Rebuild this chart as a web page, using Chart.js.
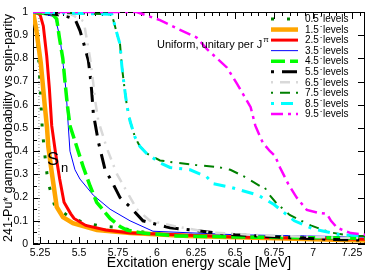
<!DOCTYPE html>
<html>
<head>
<meta charset="utf-8">
<script src="https://cdn.jsdelivr.net/npm/chart.js@4.4.1/dist/chart.umd.min.js"></script>
<style>
  html, body { margin: 0; padding: 0; background: #fff; }
</style>
</head>
<body>
<canvas id="plot" width="368" height="273"></canvas>
<script>
// level labels (spin of the J^pi group)
var levelLabels = ['0.5', '1.5', '2.5', '3.5', '4.5', '5.5', '6.5', '7.5', '8.5', '9.5'];

// curves: [energy MeV, probability]
var lev05 = [[5.205,1],[5.22,0.96],[5.24,0.82],[5.255,0.62],[5.265,0.49],[5.28,0.39],[5.30,0.27],[5.346,0.16],[5.442,0.116],[5.538,0.09],[5.635,0.078],[5.73,0.073],[5.838,0.06],[5.974,0.045],[6.3,0.035],[6.8,0.03],[7.333,0.025]];
var lev15 = [[5.205,1],[5.225,0.93],[5.255,0.78],[5.28,0.6],[5.295,0.5],[5.303,0.42],[5.325,0.31],[5.357,0.16],[5.397,0.116],[5.461,0.09],[5.615,0.06],[5.827,0.047],[6.2,0.035],[6.75,0.025],[7.333,0.015]];
var lev25 = [[5.205,1],[5.25,0.99],[5.271,0.94],[5.293,0.81],[5.31,0.67],[5.325,0.51],[5.35,0.39],[5.376,0.28],[5.404,0.18],[5.447,0.13],[5.468,0.11],[5.543,0.08],[5.671,0.06],[5.827,0.047],[6.5,0.03],[7.333,0.02]];
var lev35 = [[5.205,1],[5.346,0.98],[5.378,0.89],[5.399,0.77],[5.417,0.66],[5.431,0.51],[5.442,0.40],[5.474,0.32],[5.506,0.28],[5.592,0.21],[5.699,0.15],[5.827,0.1],[5.974,0.055],[6.5,0.04],[7.333,0.03]];
var lev45 = [[5.205,1],[5.33,0.99],[5.357,0.97],[5.374,0.89],[5.396,0.8],[5.41,0.7],[5.425,0.6],[5.442,0.51],[5.485,0.42],[5.528,0.33],[5.571,0.25],[5.613,0.18],[5.699,0.11],[5.763,0.075],[5.806,0.06],[5.91,0.047],[6.126,0.035],[6.51,0.03],[7.333,0.025]];
var lev55 = [[5.205,1],[5.35,0.99],[5.423,0.98],[5.474,0.97],[5.506,0.92],[5.528,0.87],[5.56,0.79],[5.571,0.73],[5.581,0.66],[5.592,0.56],[5.603,0.52],[5.624,0.44],[5.667,0.32],[5.71,0.27],[5.763,0.2],[5.827,0.16],[5.91,0.10],[6.083,0.07],[6.23,0.06],[6.38,0.047],[6.5,0.04],[6.77,0.03],[7.1,0.02],[7.333,0.017]];
var lev65 = [[5.205,1],[5.45,0.99],[5.53,0.96],[5.571,0.8],[5.59,0.7],[5.603,0.62],[5.624,0.53],[5.68,0.41],[5.744,0.3],[5.82,0.21],[5.87,0.15],[5.955,0.10],[6.126,0.075],[6.34,0.05],[6.6,0.04],[7.0,0.03],[7.333,0.025]];
var lev75 = [[5.205,1],[5.71,0.99],[5.742,0.91],[5.763,0.86],[5.774,0.77],[5.788,0.69],[5.806,0.6],[5.827,0.53],[5.859,0.46],[5.891,0.42],[5.934,0.39],[6.019,0.36],[6.126,0.35],[6.254,0.34],[6.404,0.33],[6.47,0.32],[6.56,0.29],[6.66,0.25],[6.69,0.245],[6.71,0.22],[6.76,0.18],[6.85,0.125],[6.985,0.08],[7.11,0.05],[7.24,0.035],[7.333,0.034]];
var lev85 = [[5.205,1],[5.71,0.99],[5.742,0.91],[5.763,0.86],[5.774,0.77],[5.788,0.69],[5.806,0.6],[5.827,0.53],[5.859,0.46],[5.891,0.42],[5.934,0.39],[6.019,0.35],[6.083,0.33],[6.212,0.32],[6.318,0.29],[6.359,0.26],[6.47,0.245],[6.65,0.21],[6.75,0.17],[6.88,0.10],[7.0,0.065],[7.17,0.04],[7.333,0.035]];
var lev95 = [[5.205,1],[5.87,1],[6.019,0.965],[6.126,0.93],[6.254,0.89],[6.32,0.84],[6.449,0.76],[6.513,0.69],[6.6,0.59],[6.63,0.51],[6.679,0.435],[6.724,0.40],[6.756,0.38],[6.788,0.33],[6.84,0.26],[6.895,0.2],[6.96,0.147],[7.03,0.135],[7.088,0.13],[7.115,0.1],[7.154,0.07],[7.242,0.047],[7.333,0.04]];

// neutron separation energy marker
var snEnergy = 5.243;

// axis ticks
var xTickValues = [5.25, 5.5, 5.75, 6, 6.25, 6.5, 6.75, 7, 7.25];
var xTickLabels = ['5.25', '5.5', '5.75', '6', '6.25', '6.5', '6.75', '7', '7.25'];
var yTickValues = [0, 0.1, 0.2, 0.3, 0.4, 0.5, 0.6, 0.7, 0.8, 0.9, 1];
var yTickLabels = ['0', '0.1', '0.2', '0.3', '0.4', '0.5', '0.6', '0.7', '0.8', '0.9', '1'];

var curves = [lev05, lev15, lev25, lev35, lev45, lev55, lev65, lev75, lev85, lev95];

// line looks, one per level
var looks = [
    { color: '#008000', width: 3,   dash: [3, 13] },
    { color: '#ffa500', width: 4.5, dash: [] },
    { color: '#ff0000', width: 3,   dash: [] },
    { color: '#0000ff', width: 1,   dash: [] },
    { color: '#00ff00', width: 3.5, dash: [14, 5] },
    { color: '#000000', width: 3,   dash: [3, 8, 15, 8] },
    { color: '#d9d9d9', width: 2.5, dash: [2, 7, 10, 6] },
    { color: '#008000', width: 2,   dash: [2, 7, 10, 6] },
    { color: '#00ffff', width: 3,   dash: [3, 7, 12, 7] },
    { color: '#ff00ff', width: 2.5, dash: [12, 5, 3, 5] }
];

var datasets = curves.map(function (pts, i) {
    return {
        label: levelLabels[i] + ' levels',
        data: pts.map(function (p) { return { x: p[0], y: p[1] }; }),
        borderColor: looks[i].color,
        borderWidth: looks[i].width,
        borderDash: looks[i].dash,
        borderCapStyle: 'butt',
        pointRadius: 0,
        tension: 0,
        fill: false,
        order: 9 - i
    };
});

datasets.push({
    label: 'Sn',
    data: [{ x: snEnergy, y: 0 }, { x: snEnergy, y: 1 }],
    borderColor: '#888888',
    borderWidth: 1,
    borderDash: [1, 2],
    pointRadius: 0,
    fill: false,
    order: 20
});

var FONT = "'Liberation Sans', Arial, sans-serif";

// ROOT style frame with inward ticks
var framePlugin = {
    id: 'frame',
    beforeDatasetsDraw: function (chart) {
        var ctx = chart.ctx, a = chart.chartArea;
        var xs = chart.scales.x, ys = chart.scales.y;
        ctx.save();
        ctx.strokeStyle = '#000';
        ctx.lineWidth = 1;
        ctx.strokeRect(a.left + 0.5, a.top + 0.5, a.right - a.left - 1, a.bottom - a.top - 1);
        ctx.beginPath();
        for (var k = 0; k <= 42; k++) {
            var v = 5.25 + k * 0.05;
            if (v > xs.max) break;
            var px = Math.round(xs.getPixelForValue(v)) + 0.5;
            var len = (k % 5 === 0) ? 7 : 4;
            ctx.moveTo(px, a.bottom); ctx.lineTo(px, a.bottom - len);
            ctx.moveTo(px, a.top); ctx.lineTo(px, a.top + len);
        }
        for (var j = 0; j <= 20; j++) {
            var py = Math.round(ys.getPixelForValue(j * 0.05)) + 0.5;
            var major = (j % 2 === 0);
            ctx.moveTo(a.left, py); ctx.lineTo(a.left + (major ? 7 : 4), py);
            if (major) { ctx.moveTo(a.right, py); ctx.lineTo(a.right - 7, py); }
        }
        ctx.stroke();
        ctx.restore();
    },
    afterDraw: function (chart) {
        var ctx = chart.ctx;
        ctx.save();
        ctx.fillStyle = '#000';
        ctx.textBaseline = 'alphabetic';
        // annotation
        ctx.font = '11px ' + FONT;
        ctx.fillText('Uniform, unitary per J', 157, 48);
        var w = ctx.measureText('Uniform, unitary per J').width;
        ctx.font = '8px ' + FONT;
        ctx.fillText('\u03c0', 157 + w + 1, 42);
        // Sn label
        ctx.font = '18px ' + FONT;
        ctx.fillText('S', 47, 165);
        ctx.font = '13px ' + FONT;
        ctx.fillText('n', 61, 172);
        // legend
        for (var i = 0; i < looks.length; i++) {
            var y = 19 + i * 10.55;
            ctx.save();
            ctx.strokeStyle = looks[i].color;
            ctx.lineWidth = looks[i].width;
            ctx.setLineDash(looks[i].dash);
            ctx.lineCap = 'butt';
            ctx.beginPath();
            ctx.moveTo(271, y); ctx.lineTo(298, y);
            ctx.stroke();
            ctx.restore();
            ctx.textBaseline = 'middle';
            ctx.font = '10px ' + FONT;
            ctx.fillText(levelLabels[i], 305, y + 0.5);
            var nw = ctx.measureText(levelLabels[i]).width;
            ctx.font = '7px ' + FONT;
            ctx.fillText('-', 305 + nw + 1, y - 3);
            ctx.font = '10px ' + FONT;
            ctx.fillText('levels', 323, y + 0.5);
        }
        ctx.restore();
    }
};

var chart = new Chart(document.getElementById('plot').getContext('2d'), {
    type: 'line',
    data: { datasets: datasets },
    options: {
        responsive: false,
        animation: false,
        layout: { padding: { top: 12, right: 3, left: 0, bottom: 0 } },
        plugins: {
            legend: { display: false },
            tooltip: { enabled: false }
        },
        scales: {
            x: {
                type: 'linear',
                min: 5.205,
                max: 7.333,
                afterFit: function (s) { s.height = 29; },
                afterBuildTicks: function (s) {
                    s.ticks = xTickValues.map(function (v) { return { value: v }; });
                },
                grid: { display: false, drawTicks: false },
                border: { display: false },
                ticks: {
                    autoSkip: false,
                    maxRotation: 0,
                    padding: 3,
                    color: '#000',
                    font: { family: FONT, size: 10.5 },
                    callback: function (v) {
                        var k = xTickValues.indexOf(v);
                        return k >= 0 ? xTickLabels[k] : '';
                    }
                },
                title: {
                    display: true,
                    text: 'Excitation energy scale [MeV]',
                    color: '#000',
                    font: { family: FONT, size: 14 },
                    padding: { top: 0, bottom: 1 }
                }
            },
            y: {
                min: 0,
                max: 1,
                afterFit: function (s) { s.width = 33; },
                afterBuildTicks: function (s) {
                    s.ticks = yTickValues.map(function (v) { return { value: v }; });
                },
                grid: { display: false, drawTicks: false },
                border: { display: false },
                ticks: {
                    autoSkip: false,
                    padding: 5,
                    color: '#000',
                    font: { family: FONT, size: 10.5 },
                    callback: function (v) {
                        var k = yTickValues.indexOf(v);
                        return k >= 0 ? yTickLabels[k] : '';
                    }
                },
                title: {
                    display: true,
                    text: '241-Pu* gamma probability vs spin-parity',
                    color: '#000',
                    font: { family: FONT, size: 12.5 },
                    padding: { top: 1, bottom: 0 }
                }
            }
        }
    },
    plugins: [framePlugin]
});
</script>
</body>
</html>
